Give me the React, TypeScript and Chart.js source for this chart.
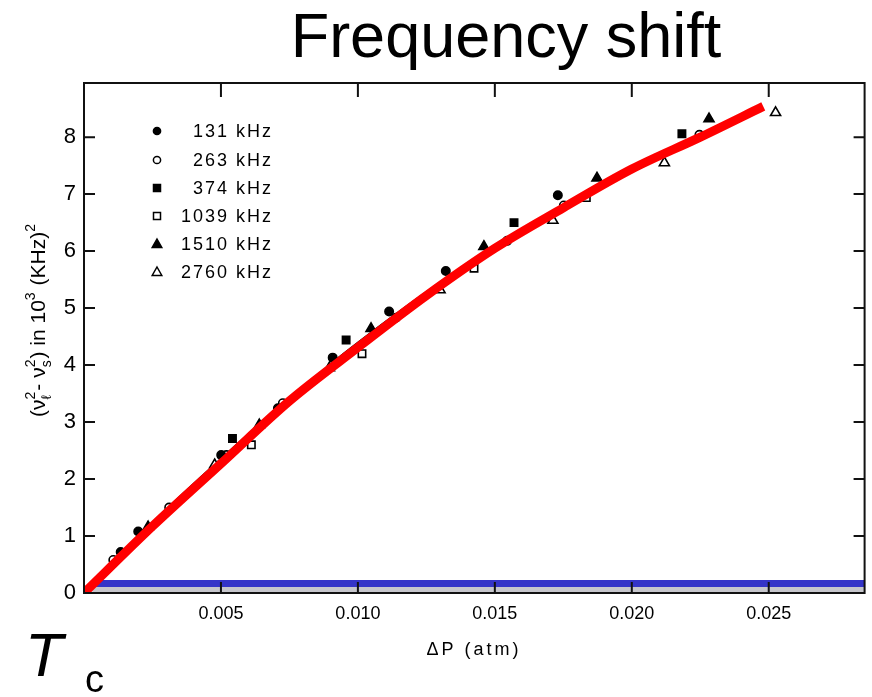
import React, { useEffect, useRef } from 'react';
import { Chart, registerables } from 'chart.js';

Chart.register(...registerables);

const titleText = 'Frequency shift';
const xAxisTitle = 'ΔP (atm)';
const seriesLabels = ['131 kHz', '263 kHz', '374 kHz', '1039 kHz', '1510 kHz', '2760 kHz'];
const seriesShapes = ['circle', 'circle', 'rect', 'rect', 'triangle', 'triangle'];
const seriesFilled = [true, false, true, false, true, false];

const x131 = [0.00134, 0.00198, 0.00501, 0.00708, 0.00908, 0.01114, 0.01321, 0.0173];
const y131 = [0.72, 1.08, 2.42, 3.24, 4.13, 4.94, 5.65, 6.98];
const x263 = [0.00107, 0.00311, 0.0052, 0.00726, 0.01139, 0.01545, 0.01752, 0.02247];
const y263 = [0.58, 1.5, 2.42, 3.33, 4.83, 6.18, 6.8, 8.04];
const x374 = [0.00542, 0.00957, 0.0157, 0.02183];
const y374 = [2.71, 4.44, 6.5, 8.06];
const x1039 = [0.00611, 0.01015, 0.01424, 0.01834];
const y1039 = [2.6, 4.2, 5.7, 6.94];
const x1510 = [0.00234, 0.0064, 0.01048, 0.0146, 0.01873, 0.02282];
const y1510 = [1.16, 2.95, 4.64, 6.08, 7.28, 8.32];
const x2760 = [0.00477, 0.00896, 0.013, 0.01712, 0.02119, 0.02525];
const y2760 = [2.25, 3.95, 5.32, 6.54, 7.55, 8.43];

const fitX = [0, 0.0025, 0.005, 0.0075, 0.01, 0.0125, 0.015, 0.0175, 0.02, 0.0225, 0.0248];
const fitY = [0, 1.17, 2.27, 3.37, 4.31, 5.22, 6.05, 6.76, 7.44, 8.0, 8.54];
const origFitX = [0, 0.0025, 0.005, 0.0075, 0.01, 0.015, 0.02, 0.0245];
const origFitY = [0, 1.24, 2.36, 3.42, 4.4, 6.1, 7.45, 8.5];
const baseX = [0.0003, 0.0285];
const baseY = [0.165, 0.165];

const xTickValues = [0.005, 0.01, 0.015, 0.02, 0.025];
const xTickLabels = ['0.005', '0.010', '0.015', '0.020', '0.025'];
const yTickValues = [0, 1, 2, 3, 4, 5, 6, 7, 8];
const yTickLabels = ['0', '1', '2', '3', '4', '5', '6', '7', '8'];

const FONT = '"Liberation Sans", Arial, sans-serif';

const toPts = (xs: number[], ys: number[]) => xs.map((x, i) => ({ x, y: ys[i] }));

function drawMarker(ctx: CanvasRenderingContext2D, shape: string, filled: boolean, x: number, y: number) {
  ctx.save();
  ctx.lineWidth = 1.5;
  ctx.strokeStyle = '#000';
  ctx.fillStyle = filled ? '#000' : '#fff';
  ctx.beginPath();
  if (shape === 'circle') {
    ctx.arc(x, y, 3.6, 0, Math.PI * 2);
  } else if (shape === 'rect') {
    ctx.rect(x - 3.5, y - 3.5, 7, 7);
  } else {
    ctx.moveTo(x, y - 5);
    ctx.lineTo(x + 4.8, y + 3.5);
    ctx.lineTo(x - 4.8, y + 3.5);
    ctx.closePath();
  }
  ctx.fill();
  ctx.stroke();
  ctx.restore();
}

const decorPlugin = {
  id: 'decor',
  afterDraw(chart: any) {
    const ctx: CanvasRenderingContext2D = chart.ctx;
    const { left, right, top, bottom } = chart.chartArea;
    const xs = chart.scales.x;
    const ys = chart.scales.y;
    ctx.save();
    // frame
    ctx.strokeStyle = '#111';
    ctx.lineWidth = 2;
    ctx.strokeRect(left, top, right - left, bottom - top);
    // inward ticks
    ctx.beginPath();
    for (const v of yTickValues) {
      const py = ys.getPixelForValue(v);
      ctx.moveTo(left, py); ctx.lineTo(left + 11, py);
      ctx.moveTo(right, py); ctx.lineTo(right - 11, py);
    }
    for (const v of xTickValues) {
      const px = xs.getPixelForValue(v);
      ctx.moveTo(px, bottom); ctx.lineTo(px, bottom - 11);
      ctx.moveTo(px, top); ctx.lineTo(px, top + 14);
    }
    ctx.stroke();

    ctx.fillStyle = '#000';
    // title
    ctx.font = `63px ${FONT}`;
    ctx.textAlign = 'center';
    ctx.textBaseline = 'alphabetic';
    ctx.fillText(titleText, 506, 57);

    // x axis title
    ctx.font = `18px ${FONT}`;
    (ctx as any).letterSpacing = '3px';
    ctx.fillText(xAxisTitle, 474, 655);

    // legend
    ctx.font = `18px ${FONT}`;
    (ctx as any).letterSpacing = '2px';
    ctx.textAlign = 'right';
    ctx.textBaseline = 'middle';
    const rowY = [131, 160, 188, 216, 244, 272];
    seriesLabels.forEach((lab, i) => {
      drawMarker(ctx, seriesShapes[i], seriesFilled[i], 157, rowY[i]);
      ctx.fillText(lab, 273, rowY[i] + 1);
    });
    (ctx as any).letterSpacing = '0px';

    // y axis title (rotated, with super/subscripts)
    const mainF = `21px ${FONT}`;
    const smallF = `14px ${FONT}`;
    const parts: any[] = [
      { t: '(' }, { t: 'ν' }, { sup: '2', sub: 'ℓ' }, { t: '- ' }, { t: 'ν' }, { sup: '2', sub: 's' },
      { t: ') in 10' }, { sup: '3', sub: '' }, { t: ' (KHz)' }, { sup: '2', sub: '' },
    ];
    let total = 0;
    const widths = parts.map((p) => {
      let w;
      if (p.t !== undefined) { ctx.font = mainF; w = ctx.measureText(p.t).width; }
      else { ctx.font = smallF; w = Math.max(ctx.measureText(p.sup).width, ctx.measureText(p.sub).width) + 1; }
      total += w;
      return w;
    });
    ctx.save();
    ctx.translate(45, 320);
    ctx.rotate(-Math.PI / 2);
    ctx.textAlign = 'left';
    ctx.textBaseline = 'alphabetic';
    let cx = -total / 2;
    parts.forEach((p, i) => {
      if (p.t !== undefined) { ctx.font = mainF; ctx.fillText(p.t, cx, 0); }
      else {
        ctx.font = smallF;
        ctx.fillText(p.sup, cx, -10);
        if (p.sub) ctx.fillText(p.sub, cx, 6);
      }
      cx += widths[i];
    });
    ctx.restore();

    // Tc
    ctx.textAlign = 'left';
    ctx.textBaseline = 'alphabetic';
    ctx.font = `italic 62px ${FONT}`;
    ctx.fillText('T', 25, 676);
    ctx.font = `38px ${FONT}`;
    ctx.fillText('c', 85, 692);
    ctx.restore();
  },
};

export default function App() {
  const ref = useRef<HTMLCanvasElement>(null);
  useEffect(() => {
    if (!ref.current) return;
    const seriesX = [x131, x263, x374, x1039, x1510, x2760];
    const seriesY = [y131, y263, y374, y1039, y1510, y2760];
    const pointDatasets = seriesLabels.map((lab, i) => ({
      type: 'scatter' as const,
      label: lab,
      data: toPts(seriesX[i], seriesY[i]),
      pointStyle: seriesShapes[i],
      pointRadius: seriesShapes[i] === 'circle' ? 4.2 : seriesShapes[i] === 'rect' ? 5.2 : 5.8,
      backgroundColor: seriesFilled[i] ? '#000' : '#fff',
      borderColor: '#000',
      borderWidth: 1.6,
      showLine: false,
      order: 2,
    }));
    const chart = new Chart(ref.current, {
      type: 'scatter',
      data: {
        datasets: [
          {
            type: 'line',
            label: 'fit',
            data: toPts(fitX, fitY),
            borderColor: '#ff0000',
            borderWidth: 9,
            pointRadius: 0,
            cubicInterpolationMode: 'monotone',
            borderCapStyle: 'butt',
            fill: false,
            order: 0,
          } as any,
          {
            type: 'line',
            label: 'baseline',
            data: toPts(baseX, baseY),
            borderColor: '#3434c8',
            borderWidth: 7,
            pointRadius: 0,
            fill: { target: 'origin', above: '#c6c6cc' },
            backgroundColor: '#c6c6cc',
            order: 1,
          } as any,
          ...pointDatasets,
          {
            type: 'line',
            label: 'original fit',
            data: toPts(origFitX, origFitY),
            borderColor: '#000',
            borderWidth: 1.5,
            pointRadius: 0,
            cubicInterpolationMode: 'monotone',
            fill: false,
            order: 3,
          } as any,
        ],
      },
      options: {
        animation: false,
        responsive: false,
        layout: { padding: { top: 83, right: 6, left: 0, bottom: 0 } },
        plugins: { legend: { display: false }, tooltip: { enabled: false }, title: { display: false } },
        scales: {
          x: {
            type: 'linear',
            min: 0,
            max: 0.0285,
            grid: { display: false, drawTicks: false },
            border: { display: false },
            ticks: {
              padding: 10,
              color: '#000',
              maxRotation: 0,
              autoSkip: false,
              font: { family: FONT, size: 18 },
              callback: (_v: any, i: number) => xTickLabels[i],
            },
            afterBuildTicks: (s: any) => { s.ticks = xTickValues.map((v) => ({ value: v })); },
            afterFit: (s: any) => { s.height = 104; },
          },
          y: {
            type: 'linear',
            min: 0,
            max: 8.95,
            grid: { display: false, drawTicks: false },
            border: { display: false },
            ticks: {
              padding: 8,
              color: '#000',
              autoSkip: false,
              font: { family: FONT, size: 22 },
              callback: (_v: any, i: number) => yTickLabels[i],
            },
            afterBuildTicks: (s: any) => { s.ticks = yTickValues.map((v) => ({ value: v })); },
            afterFit: (s: any) => { s.width = 84; },
          },
        },
      } as any,
      plugins: [decorPlugin],
    });
    return () => chart.destroy();
  }, []);
  return (
    <div style={{ position: 'fixed', left: 0, top: 0, width: 872, height: 697, background: '#fff' }}>
      <canvas ref={ref} width={872} height={697} style={{ display: 'block' }} />
    </div>
  );
}
